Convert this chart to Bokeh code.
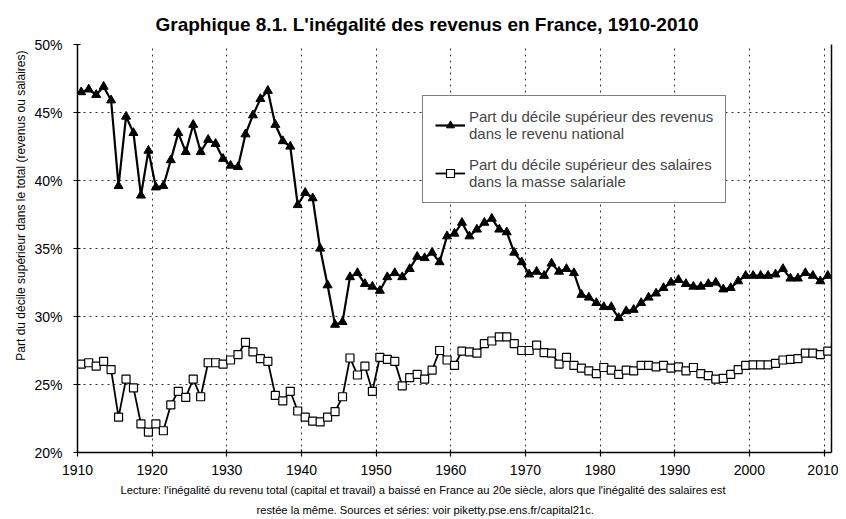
import numpy as np
from bokeh.plotting import figure
from bokeh.models import (Range1d, FixedTicker, PrintfTickFormatter, Legend,
                          LegendItem, Title, LinearAxis)
from bokeh.embed import file_html
from bokeh.resources import INLINE

years = list(range(1910, 2011))

income_share = [
    46.5, 46.7, 46.3, 46.9, 45.9, 39.6, 44.7, 43.5, 38.9, 42.2,   # 1910s
    39.5, 39.6, 41.5, 43.5, 42.1, 44.1, 42.1, 43.0, 42.7, 41.6,   # 1920s
    41.1, 41.0, 43.4, 44.8, 46.0, 46.6, 44.1, 42.9, 42.5, 38.2,   # 1930s
    39.1, 38.7, 35.0, 32.3, 29.4, 29.6, 32.9, 33.2, 32.4, 32.2,   # 1940s
    31.9, 32.9, 33.2, 32.9, 33.5, 34.4, 34.3, 34.7, 34.0, 35.9,   # 1950s
    36.1, 36.9, 35.9, 36.4, 36.9, 37.2, 36.4, 36.2, 34.7, 34.0,   # 1960s
    33.1, 33.3, 33.0, 33.9, 33.3, 33.5, 33.2, 31.6, 31.4, 31.0,   # 1970s
    30.7, 30.7, 29.9, 30.4, 30.5, 31.0, 31.4, 31.7, 32.1, 32.5,   # 1980s
    32.7, 32.4, 32.2, 32.2, 32.4, 32.5, 32.0, 32.1, 32.6, 33.0,   # 1990s
    33.0, 33.0, 33.0, 33.1, 33.5, 32.8, 32.8, 33.2, 33.0, 32.6,   # 2000s
    33.0,                                                         # 2010
]

wage_share = [
    26.5, 26.6, 26.35, 26.7, 26.1, 22.6, 25.4, 24.75, 22.1, 21.5,   # 1910s
    22.1, 21.6, 23.5, 24.5, 24.05, 25.4, 24.1, 26.6, 26.6, 26.5,    # 1920s
    26.8, 27.2, 28.1, 27.4, 26.9, 26.7, 24.2, 23.8, 24.5, 23.05,    # 1930s
    22.6, 22.3, 22.25, 22.6, 23.0, 24.1, 26.95, 25.7, 26.35, 24.5,  # 1940s
    27.0, 26.85, 26.7, 24.9, 25.5, 25.75, 25.4, 26.05, 27.5, 26.8,  # 1950s
    26.4, 27.45, 27.4, 27.3, 28.0, 28.2, 28.5, 28.5, 28.0, 27.5,    # 1960s
    27.5, 27.9, 27.35, 27.3, 26.5, 27.0, 26.4, 26.2, 26.0, 25.8,    # 1970s
    26.25, 26.05, 25.75, 26.05, 26.0, 26.4, 26.4, 26.3, 26.4, 26.2, # 1980s
    26.3, 26.0, 26.25, 25.8, 25.65, 25.4, 25.45, 25.75, 26.1, 26.4, # 1990s
    26.45, 26.45, 26.45, 26.55, 26.8, 26.85, 26.9, 27.3, 27.3, 27.2,# 2000s
    27.45,                                                          # 2010
]

x_ticks = list(range(1910, 2011, 10))
y_ticks = [20, 25, 30, 35, 40, 45, 50]

title_text = "Graphique 8.1. L'inégalité des revenus en France, 1910-2010"
y_label = "Part du décile supérieur dans le total (revenus ou salaires)"
legend_income = "Part du décile supérieur des revenus\ndans le revenu national"
legend_wage = "Part du décile supérieur des salaires\ndans la masse salariale"
caption_1 = ("Lecture: l'inégalité du revenu total (capital et travail) a baissé en France "
             "au 20e siècle, alors que l'inégalité des salaires est")
caption_2 = "restée la même. Sources et séries: voir piketty.pse.ens.fr/capital21c."

FONT = "Liberation Sans"

# category-style positioning: each year sits in the middle of its slot
x_pos = np.array(years, dtype=float) + 0.5

p = figure(width=838, height=519, output_backend="svg", toolbar_location=None,
           x_range=Range1d(1910, 2011), y_range=Range1d(20, 50),
           min_border_left=77, min_border_right=7, min_border_top=44,
           min_border_bottom=67, background_fill_color="white",
           border_fill_color="white")
p.outline_line_color = None

# title
p.title.text = title_text
p.title.align = "left"
p.title.offset = 78
p.title.vertical_align = "top"
p.title.standoff = 16
p.title.text_font = FONT
p.title.text_font_style = "bold"
p.title.text_font_size = "19px"
p.title.text_color = "black"

# axes
for ax in (p.xaxis[0], p.yaxis[0]):
    ax.axis_line_color = "black"
    ax.axis_line_width = 1.5
    ax.major_tick_line_color = "black"
    ax.major_tick_line_width = 1.2
    ax.major_tick_in = 3
    ax.major_tick_out = 4
    ax.minor_tick_line_color = None
    ax.major_label_text_font = FONT
    ax.major_label_text_font_size = "14px"
    ax.major_label_text_color = "black"

p.xaxis.ticker = FixedTicker(ticks=x_ticks)
p.yaxis.ticker = FixedTicker(ticks=y_ticks)
p.yaxis.formatter = PrintfTickFormatter(format="%d%%")
p.xaxis.major_label_standoff = 8
p.yaxis.major_label_standoff = 11

right_axis = LinearAxis(ticker=FixedTicker(ticks=[]), axis_line_color="black",
                        axis_line_width=1.5, major_tick_line_color=None,
                        minor_tick_line_color=None, major_tick_out=0,
                        major_tick_in=0, major_label_standoff=0,
                        major_label_text_font_size="0px")
p.add_layout(right_axis, "right")

# grids
for g in (p.xgrid[0], p.ygrid[0]):
    g.grid_line_color = "#333333"
    g.grid_line_dash = "2 4"
    g.grid_line_width = 1

# y label as a left-side title
p.add_layout(Title(text=y_label, align="right", offset=6, standoff=7,
                   text_font=FONT, text_font_size="12px",
                   text_font_style="normal", text_color="black"), "left")

# captions below the axis
p.add_layout(Title(text=caption_1, align="left", offset=43, standoff=12,
                   vertical_align="top", text_font=FONT,
                   text_font_size="11.2px", text_font_style="normal",
                   text_color="black"), "below")
p.add_layout(Title(text=caption_2, align="left", offset=179, standoff=0,
                   vertical_align="top", text_font=FONT,
                   text_font_size="11.2px", text_font_style="normal",
                   text_color="black"), "below")

# series
l1 = p.line(x_pos, income_share, line_color="black", line_width=2.2)
s1 = p.scatter(x_pos, income_share, marker="triangle", size=9,
               fill_color="black", line_color="black")
l2 = p.line(x_pos, wage_share, line_color="black", line_width=1.8)
s2 = p.scatter(x_pos, wage_share, marker="square", size=8,
               fill_color="white", line_color="black", line_width=1.2)

legend = Legend(items=[LegendItem(label=legend_income, renderers=[l1, s1]),
                       LegendItem(label=legend_wage, renderers=[l2, s2])],
                location=(345, 249), margin=0, padding=12, spacing=14,
                glyph_width=30, label_standoff=4,
                label_text_font=FONT, label_text_font_size="15px",
                border_line_color="black", border_line_width=1.5,
                background_fill_color="white", background_fill_alpha=1)
p.add_layout(legend)

open("out.html", "w").write(file_html(p, INLINE))
